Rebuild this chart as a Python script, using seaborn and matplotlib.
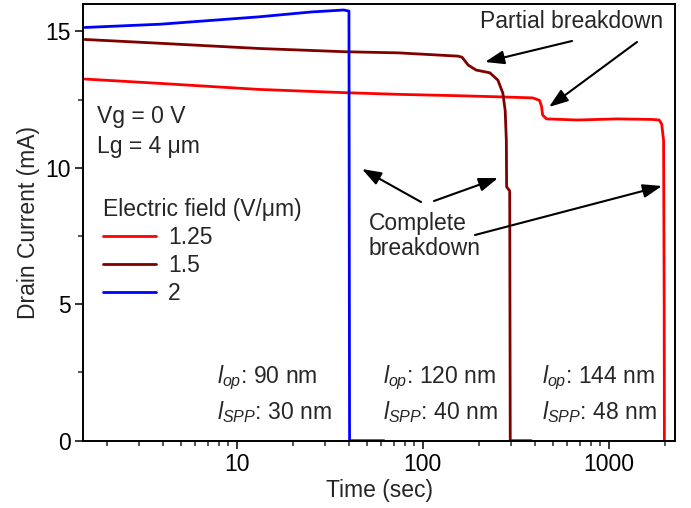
import numpy as np
import pandas as pd
import matplotlib
matplotlib.use("Agg")
import matplotlib.pyplot as plt
import matplotlib.ticker as mticker
import seaborn as sns

# ---- data ----
fields = ["1.25", "1.5", "2"]
colors = ["#FF0000", "#800000", "#0000FF"]

time_125 = [1.53, 3.9, 13.2, 38.7, 74, 155, 254, 391, 425, 436, 442, 464, 680, 1114, 1715, 1870, 1930, 1975, 1990, 1995]
curr_125 = [13.25, 13.09, 12.87, 12.75, 12.69, 12.64, 12.60, 12.56, 12.47, 12.25, 11.93, 11.79, 11.75, 11.79, 11.77, 11.75, 11.60, 11.00, 5.0, 0.0]

time_15 = [1.53, 3.9, 13.2, 38.7, 74, 155, 163, 176, 194, 230, 254, 270, 278, 282, 283, 294, 296, 384]
curr_15 = [14.70, 14.56, 14.37, 14.25, 14.21, 14.09, 14.05, 13.76, 13.58, 13.48, 13.21, 12.74, 12.10, 11.0, 9.30, 9.15, 0.0, 0.0]

time_2 = [1.53, 3.9, 13.2, 25.4, 37.7, 40.2, 40.5, 62]
curr_2 = [15.14, 15.26, 15.53, 15.71, 15.78, 15.74, 0.0, 0.0]

x_ticks = [10, 100, 1000]
y_ticks = [0, 5, 10, 15]

df = pd.concat([
    pd.DataFrame({"Time": time_125, "Current": curr_125, "Field": fields[0]}),
    pd.DataFrame({"Time": time_15, "Current": curr_15, "Field": fields[1]}),
    pd.DataFrame({"Time": time_2, "Current": curr_2, "Field": fields[2]}),
], ignore_index=True)

sns.set_style("ticks")
plt.rcParams["font.family"] = ["Liberation Sans", "DejaVu Sans"]
plt.rcParams["mathtext.fontset"] = "custom"
plt.rcParams["mathtext.rm"] = "Liberation Sans"
plt.rcParams["mathtext.it"] = "Liberation Sans:italic"
plt.rcParams["mathtext.bf"] = "Liberation Sans:bold"

FS = 16.5
W, H = 691, 508
fig = plt.figure(figsize=(W / 100, H / 100), dpi=100)
L, R, T, B = 83.3, 675.0, 4.0, 440.7
ax = fig.add_axes([L / W, 1 - B / H, (R - L) / W, (B - T) / H])

sns.lineplot(data=df, x="Time", y="Current", hue="Field", hue_order=fields,
             palette=colors, sort=False, estimator=None, units="Field",
             linewidth=2.0, ax=ax, legend=True)

ax.set_xscale("log")
ax.set_xlim(1.50, 2275)
ax.set_ylim(0, 16.0)
ax.set_xticks(x_ticks)
ax.xaxis.set_major_formatter(mticker.FuncFormatter(lambda v, p: f"{v:g}"))
ax.xaxis.set_minor_locator(mticker.LogLocator(base=10, subs=np.arange(2, 10)))
ax.xaxis.set_minor_formatter(mticker.NullFormatter())
ax.set_yticks(y_ticks)
ax.yaxis.set_minor_locator(mticker.MultipleLocator(2.5))

ax.tick_params(which="major", direction="out", length=5.5, width=1.1, labelsize=FS, colors="black")
ax.tick_params(which="minor", direction="out", length=3.5, width=1.1)
for s in ax.spines.values():
    s.set_linewidth(1.4)
    s.set_color("black")
    s.set_visible(True)

ax.set_xlabel("Time (sec)", fontsize=FS, labelpad=2)
ax.set_ylabel("Drain Current (mA)", fontsize=FS, labelpad=4)


def af(px, py):
    return ((px - L) / (R - L), (B - py) / (B - T))


leg = ax.legend(title="Electric field (V/μm)", loc="upper left",
                bbox_to_anchor=af(103, 198), frameon=False, fontsize=FS,
                title_fontsize=FS, handlelength=2.3, handletextpad=0.55,
                labelspacing=0.22, borderpad=0, borderaxespad=0, alignment="left")
for h in leg.get_lines():
    h.set_linewidth(2.0)

ax.text(*af(97, 116), "Vg = 0 V", transform=ax.transAxes, fontsize=FS, ha="left", va="center")
ax.text(*af(97, 146), "Lg = 4 μm", transform=ax.transAxes, fontsize=FS, ha="left", va="center")

ax.text(*af(571.7, 21.7), "Partial breakdown", transform=ax.transAxes, fontsize=FS, ha="center", va="center")
ax.text(*af(369, 236), "Complete\nbreakdown", transform=ax.transAxes, fontsize=FS,
        ha="left", va="center", linespacing=1.15)

arrows = [((572, 41), (485, 62)), ((637, 42), (549, 107)),
          ((421, 202), (362, 169)), ((434, 201), (498, 178)), ((475, 235), (662, 186))]
for tail, head in arrows:
    ax.annotate("", xy=af(*head), xycoords="axes fraction", xytext=af(*tail),
                textcoords="axes fraction",
                arrowprops=dict(arrowstyle="-|>,head_length=0.7,head_width=0.25",
                                color="black", lw=1.5, shrinkA=0, shrinkB=0,
                                mutation_scale=FS))

labels = [(216.7, "90", "30"), (383.3, "120", "40"), (541.7, "144", "48")]
for px, lop, lspp in labels:
    ax.text(*af(px, 378.3), r"$l_{op}$: " + lop + " nm", transform=ax.transAxes,
            fontsize=FS, ha="left", va="center")
    ax.text(*af(px, 411.7), r"$l_{SPP}$: " + lspp + " nm", transform=ax.transAxes,
            fontsize=FS, ha="left", va="center")

fig.savefig("out.png", dpi=100)
